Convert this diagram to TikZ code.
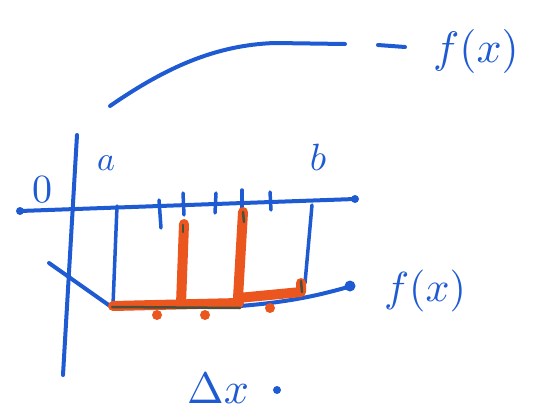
\documentclass[tikz,border=0pt]{standalone}
\usepackage{amsmath}
\usepackage{xcolor}
\definecolor{pen}{RGB}{30,90,210}
\definecolor{marker}{RGB}{235,85,30}
\definecolor{ink}{RGB}{75,80,60}

\begin{document}
\begin{tikzpicture}[x=1pt,y=-1pt,line cap=round,line join=round]
\useasboundingbox (0,0) rectangle (551,417);
% axes
\draw[pen,line width=4] (20,211)--(355,199);
\fill[pen] (20,211) circle (4);
\fill[pen] (355,199) circle (4);
\draw[pen,line width=4] (77,135)--(63,375);
% upper curve and its label
\draw[pen,line width=4] (110,106) .. controls (165,68) and (215,45) .. (275,43)--(345,44);
\draw[pen,line width=4] (378,45)--(405,47);
\node[pen,scale=4.4] (ftop) at (476,52){$f(x)$};
% ticks
\draw[pen,line width=3.5] (159,200)--(161,228);
\draw[pen,line width=3.5] (183,193)--(184,215);
\draw[pen,line width=3.5] (216,193)--(215,213);
\draw[pen,line width=3.5] (242,190)--(242,210);
\draw[pen,line width=3.5] (270,192)--(271,210);
% lower curve
\draw[pen,line width=4] (49,263)--(110,306)--(240,306) .. controls (290,302) and (320,295) .. (348,287);
\fill[pen] (350,286) circle (5.5);
\draw[pen,line width=3.5] (117,206)--(113,305);
\draw[pen,line width=3.5] (312,205)--(305,283);
% red bars
\draw[marker,line width=10] (113,306)--(239,303);
\draw[marker,line width=10] (184,224)--(181,304);
\draw[marker,line width=10] (243,212)--(238,298)--(301,292)--(301,283);
\fill[marker] (157,315) circle (5);
\fill[marker] (205,315) circle (5);
\fill[marker] (270,308) circle (5);
\draw[ink,line width=2.5] (112,307)--(240,308);
\draw[ink,line width=2.5] (183,225)--(183,232);
\draw[ink,line width=2.5] (243,212)--(244,222);
\draw[ink,line width=2.5] (301,281)--(302,292);
% labels
\node[pen,scale=4] (zero) at (42,190){$0$};
\node[pen,scale=3.4] (a) at (106,163){$a$};
\node[pen,scale=3.8] (b) at (318,157){$b$};
\node[pen,scale=4.2] (fbot) at (425,291){$f(x)$};
\node[pen,scale=4.4] (dx) at (218,388){$\Delta x$};
\fill[pen] (277,390) circle (4);
\end{tikzpicture}
\end{document}
